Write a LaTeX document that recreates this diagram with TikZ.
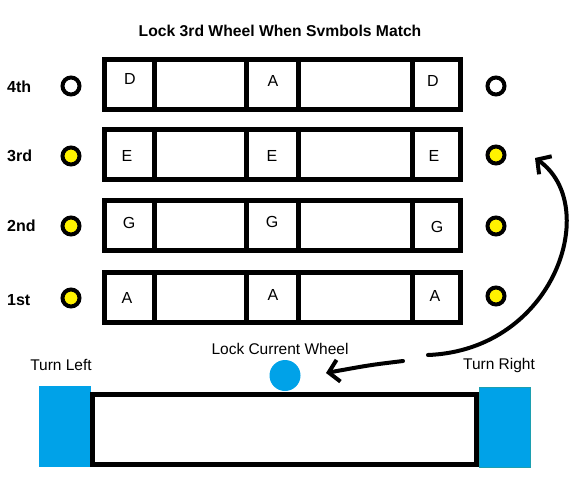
\documentclass[tikz,border=0pt]{standalone}
\usepackage{fontspec}
\setmainfont{Liberation Sans}
\usetikzlibrary{arrows.meta}
\definecolor{pblue}{HTML}{00A2E8}
\definecolor{pyellow}{HTML}{FFF200}
\definecolor{pteal}{HTML}{1C9FB0}
\begin{document}
\begin{tikzpicture}[x=1pt,y=-1pt,
  wheel/.style={draw, line width=5pt, minimum width=356pt, minimum height=50pt, inner sep=0pt},
  divider/.style={line width=5pt},
  lamp/.style={circle, draw, line width=4pt, minimum size=17pt, inner sep=0pt},
  sym/.style={font=\fontsize{16}{16}\selectfont, inner sep=0pt},
  rowlabel/.style={font=\fontsize{16}{16}\selectfont\bfseries, inner sep=0pt, anchor=west},
  caption/.style={font=\fontsize{15.5}{15.5}\selectfont, inner sep=0pt},
  button/.style={fill=pblue, minimum width=52pt, minimum height=81pt, inner sep=0pt},
  curarrow/.style={line width=4pt, line cap=round, -{Straight Barb[length=10pt, width=22pt, line width=4pt]}}
]
\useasboundingbox (0,0) rectangle (576,480);

\node[font=\fontsize{15.7}{15.7}\selectfont\bfseries, inner sep=0pt] (title) at (280,31) {Lock 3rd Wheel When Svmbols Match};

% wheels
\foreach \n/\y in {4/84.5, 3/154.5, 2/225.5, 1/297.5} {
  \node[wheel] (w\n) at (282,\y) {};
  \foreach \x in {154,246.7,298,412.3}
    \draw[divider] (\x,0 |- w\n.north) -- (\x,0 |- w\n.south);
}

% row labels
\node[rowlabel] (n4) at (7,87) {4th};
\node[rowlabel] (n3) at (7,156) {3rd};
\node[rowlabel] (n2) at (7,226) {2nd};
\node[rowlabel] (n1) at (7,300) {1st};

% lamps
\node[lamp, fill=white] (l4) at (71,86) {};
\node[lamp, fill=pyellow] (l3) at (71,156) {};
\node[lamp, fill=pyellow] (l2) at (71,226) {};
\node[lamp, fill=pyellow] (l1) at (71,298) {};
\node[lamp, fill=white] (r4) at (496,86) {};
\node[lamp, fill=pyellow] (r3) at (496,155) {};
\node[lamp, fill=pyellow] (r2) at (496,226) {};
\node[lamp, fill=pyellow] (r1) at (496,296) {};

% symbols
\node[sym] (s4a) at (130,79) {D};
\node[sym] (s4b) at (273,81) {A};
\node[sym] (s4c) at (433,81) {D};
\node[sym] (s3a) at (127,156) {E};
\node[sym] (s3b) at (272,156) {E};
\node[sym] (s3c) at (434,156) {E};
\node[sym] (s2a) at (129,223) {G};
\node[sym] (s2b) at (272,222) {G};
\node[sym] (s2c) at (437,227) {G};
\node[sym] (s1a) at (127,298) {A};
\node[sym] (s1b) at (273,295) {A};
\node[sym] (s1c) at (435,296) {A};

% controls
\node[button] (left) at (65,426.5) {};
\node[button, draw=pteal, line width=1pt, minimum width=51pt, minimum height=80pt] (right) at (505,427.5) {};
\node[draw, line width=5pt, minimum width=384pt, minimum height=70pt, inner sep=0pt] (bar) at (284.5,429.5) {};
\node[circle, fill=pblue, minimum size=31pt, inner sep=0pt] (lock) at (285,375.5) {};

\node[caption] (tlab) at (61,365) {Turn Left};
\node[caption] (llab) at (280,349) {Lock Current Wheel};
\node[caption] (rlab) at (499,365) {Turn Right};

% arrows
\coordinate (a1s) at (428,355);
\coordinate (a1e) at (535,158);
\coordinate (a2s) at (403,361);
\coordinate (a2e) at (326,373);
\draw[curarrow] (a1s) .. controls (555,350) and (602,205) .. (a1e);
\draw[curarrow] (a2s) .. controls (370,365) .. (a2e);
\end{tikzpicture}
\end{document}
